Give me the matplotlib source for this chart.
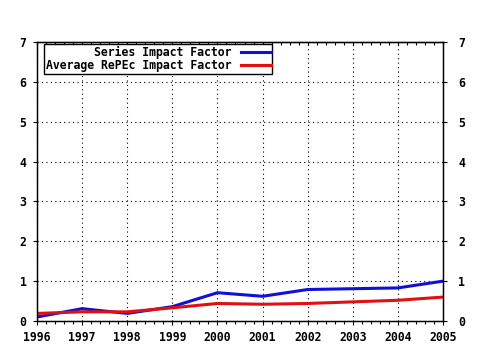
import matplotlib

matplotlib.use("Agg")
import matplotlib.pyplot as plt
from matplotlib.ticker import MultipleLocator

years = [1996, 1997, 1998, 1999, 2000, 2001, 2002, 2003, 2004, 2005]
series_if = [0.10, 0.31, 0.19, 0.36, 0.71, 0.62, 0.79, 0.81, 0.83, 1.00]
average_if = [0.19, 0.23, 0.23, 0.33, 0.44, 0.42, 0.44, 0.48, 0.52, 0.60]
y_ticks = [0, 1, 2, 3, 4, 5, 6, 7]

plt.rcParams["font.family"] = "DejaVu Sans Mono"
plt.rcParams["font.weight"] = "bold"
plt.rcParams["font.size"] = 8.3

fig = plt.figure(figsize=(4.8, 3.5), dpi=100)
ax = fig.add_axes([37 / 480, 1 - 321 / 350, 406 / 480, 279 / 350])

ax.plot(years, series_if, color="#1010d8", linewidth=2.2, label="Series Impact Factor")
ax.plot(years, average_if, color="#e01010", linewidth=2.2, label="Average RePEc Impact Factor")

ax.set_xlim(years[0], years[-1])
ax.set_ylim(0, 7)
ax.set_xticks(years)
ax.set_yticks(y_ticks)
ax.xaxis.set_minor_locator(MultipleLocator(0.2))
ax.grid(True, which="major", color="black", linestyle=(0, (1, 3)), linewidth=0.8)

for spine in ax.spines.values():
    spine.set_linewidth(1.0)
    spine.set_color("black")

ax.tick_params(which="major", direction="out", length=3, width=0.8, colors="black")
ax.tick_params(axis="x", which="major", pad=4.5)
ax.tick_params(axis="y", which="major", pad=4.5)
ax.tick_params(axis="x", which="minor", direction="out", length=2, width=0.8)

# right-hand copy of the y axis
right = ax.twinx()
right.set_ylim(ax.get_ylim())
right.set_yticks(y_ticks)
right.tick_params(direction="out", length=3, width=0.8, pad=8)

top = ax.secondary_xaxis("top")
top.set_xticks(years)
top.xaxis.set_minor_locator(MultipleLocator(0.2))
top.tick_params(which="both", direction="in", length=2, width=0.8, labeltop=False)

legend = ax.legend(
    loc="upper left",
    bbox_to_anchor=(7 / 406, 1 - 2 / 279),
    borderaxespad=0,
    markerfirst=False,
    handlelength=2.6,
    handletextpad=0.8,
    borderpad=0.15,
    labelspacing=0.05,
    fancybox=False,
    framealpha=1,
    edgecolor="black",
)
legend.get_frame().set_linewidth(1.0)

fig.savefig("out.png", dpi=100)
